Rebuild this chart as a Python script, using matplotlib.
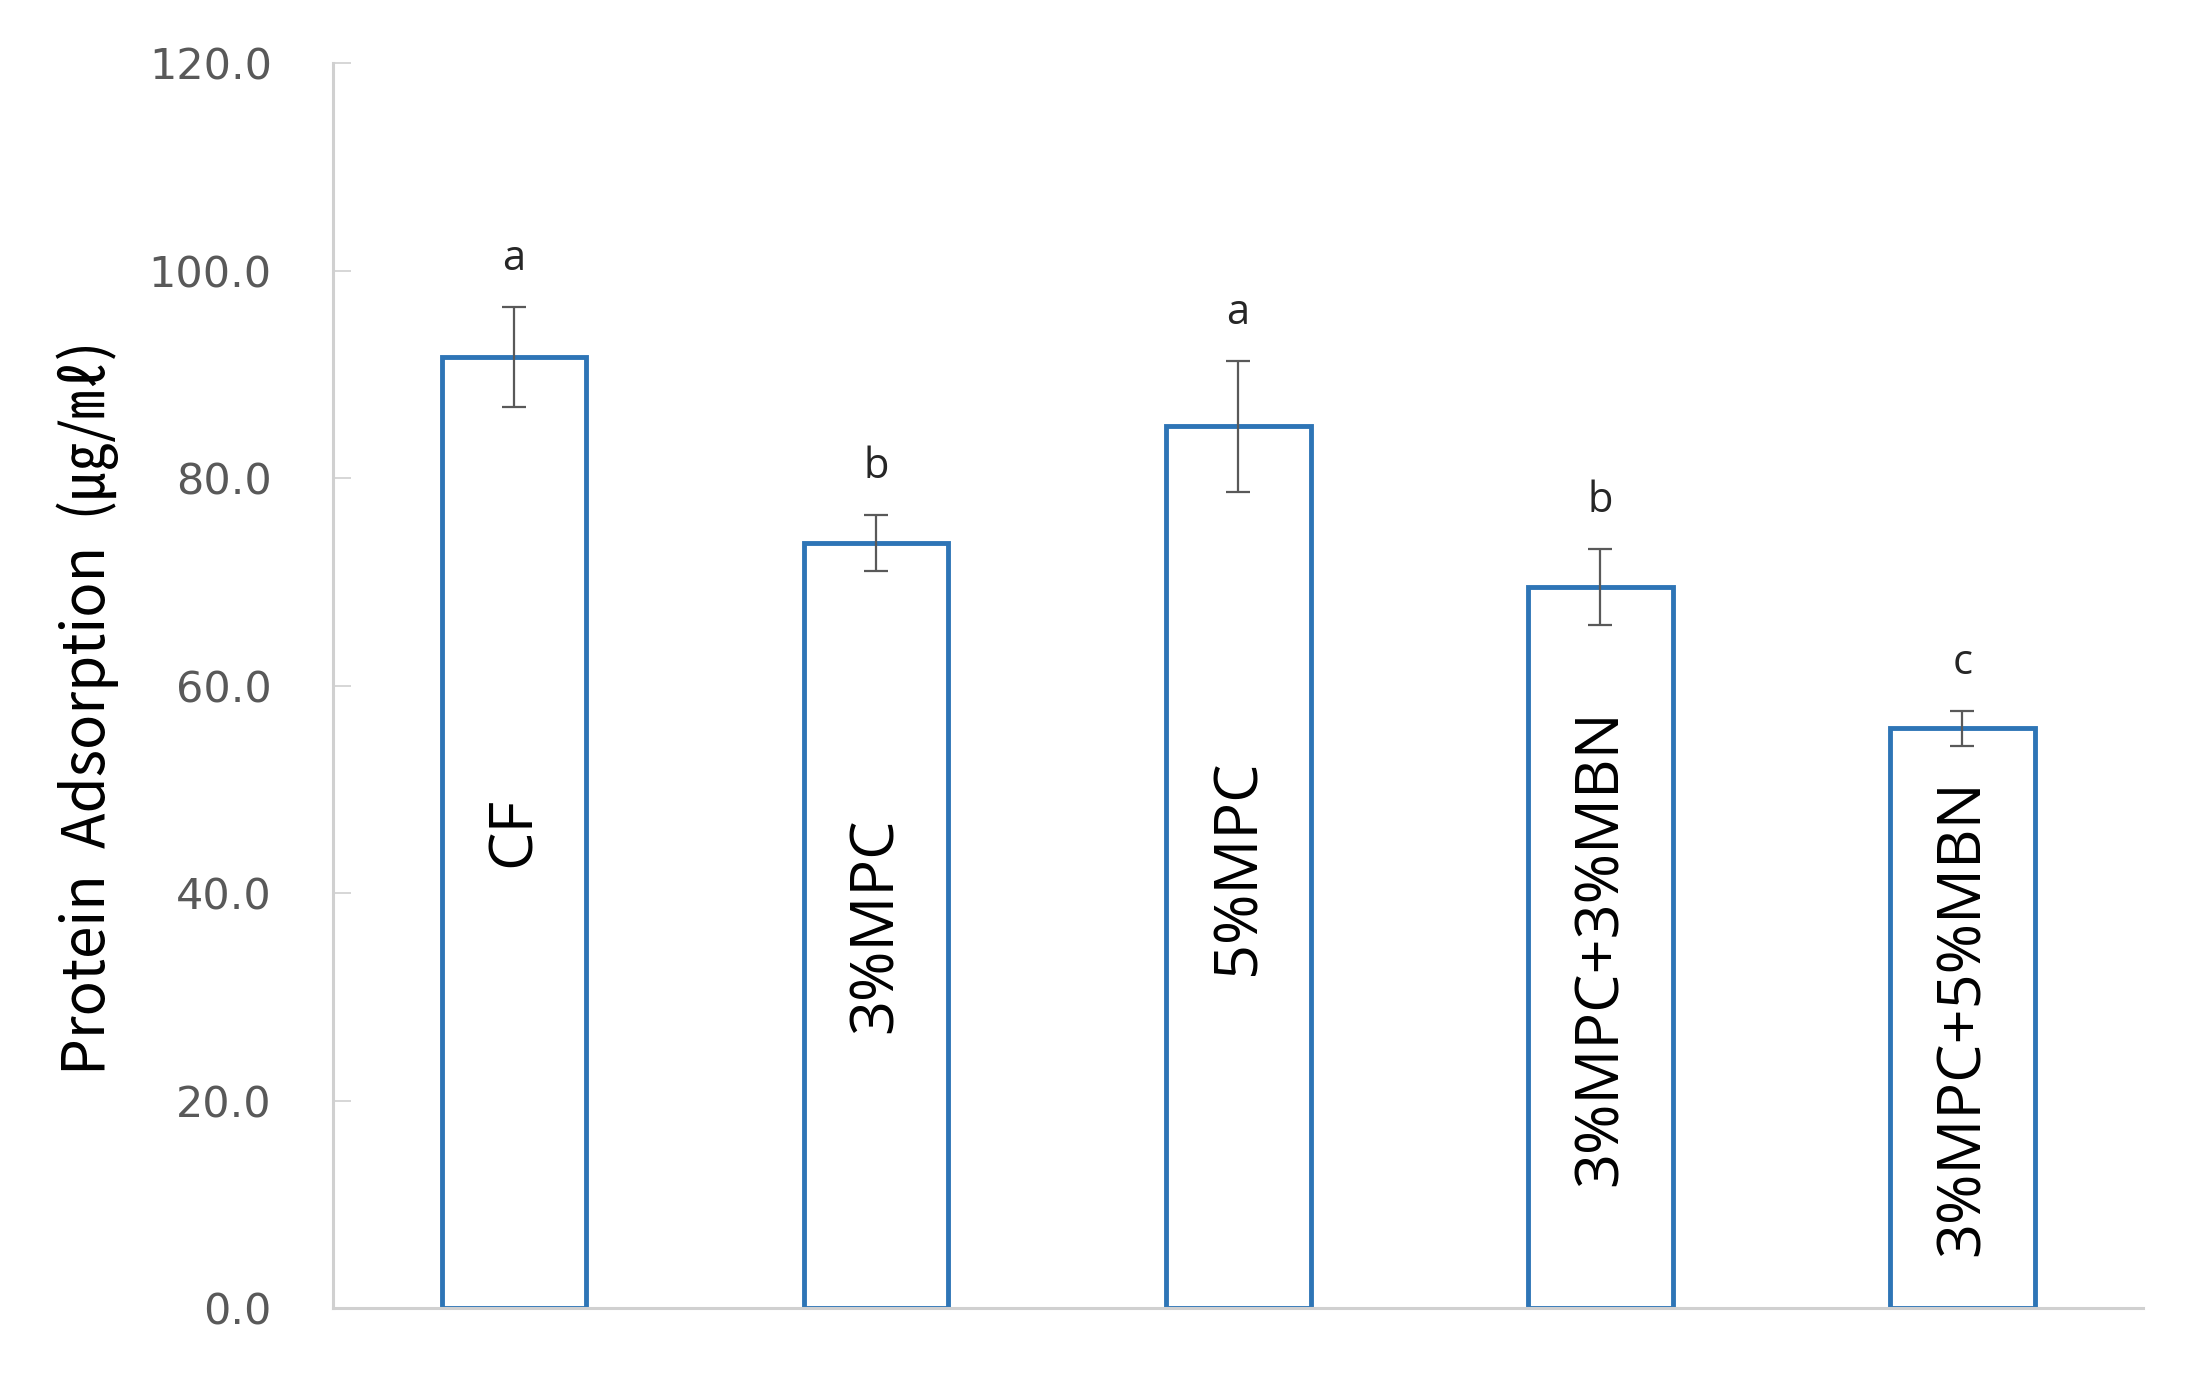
import numpy as np
import matplotlib
matplotlib.use("Agg")
import matplotlib.pyplot as plt

# data
groups = ["CF", "3%MPC", "5%MPC", "3%MPC+3%MBN", "3%MPC+5%MBN"]
means = [91.7, 73.8, 85.0, 69.5, 55.9]
errs = [4.8, 2.7, 6.3, 3.7, 1.7]
letters = ["a", "b", "a", "b", "c"]
yticks = [0, 20, 40, 60, 80, 100, 120]

blue = "#2e75b6"
grey = "#595959"
axis_grey = "#d0d0d0"

fig = plt.figure(figsize=(22.12, 13.76), dpi=100)
ax = fig.add_axes([0.1505, 0.0494, 0.8185, 0.9046])

x = np.arange(len(groups))
ax.bar(x, means, width=0.4, color="white", edgecolor=blue, linewidth=3.5, zorder=2)
ax.errorbar(x, means, yerr=errs, fmt="none", ecolor=grey, elinewidth=1.6,
            capsize=8.5, capthick=1.6, zorder=3)

for xi, m, e, lab, g in zip(x, means, errs, letters, groups):
    ax.text(xi, m + e + 2.6, lab, ha="center", va="bottom", fontsize=30,
            color="#262626", family="Open Sans")
    ax.text(xi, m / 2, g, ha="center", va="center", rotation=90, fontsize=44,
            color="black", family="Open Sans")

ax.set_xlim(-0.5, 4.5)
ax.set_ylim(0, 120)
ax.set_yticks(yticks)
ax.set_yticklabels([f"{v:.1f}" for v in yticks], fontsize=31, color=grey)
ax.set_xticks([])
ax.tick_params(axis="y", direction="in", length=13, width=1.2, color=axis_grey, pad=44)

for s in ["top", "right"]:
    ax.spines[s].set_visible(False)
for s in ["left", "bottom"]:
    ax.spines[s].set_color(axis_grey)
    ax.spines[s].set_linewidth(2.2)

ax.set_ylabel("Protein  Adsorption  (㎍/㎖)", fontsize=42, color="black",
              family=["Noto Sans CJK KR", "DejaVu Sans"])
ax.yaxis.set_label_coords(-0.118, 0.482)

fig.savefig("out.png", dpi=100, facecolor="white")
